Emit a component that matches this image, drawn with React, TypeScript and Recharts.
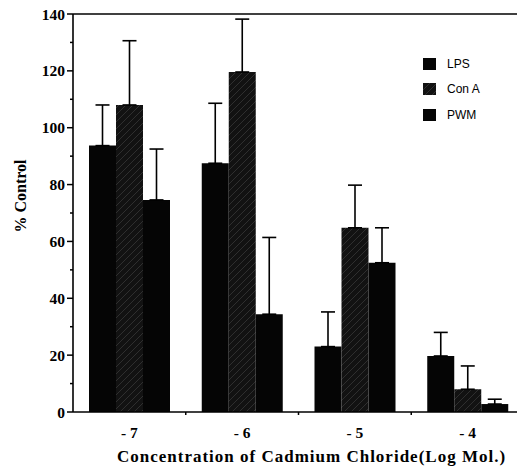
import React from 'react';
import { BarChart, Bar, XAxis, YAxis, ErrorBar, ReferenceLine, Label } from 'recharts';

const categories = ['-7', '-6', '-5', '-4'];
const tickLabels = ['- 7', '- 6', '- 5', '- 4'];
const lpsValues = [93.7, 87.5, 23.0, 19.7];
const lpsErrors = [14.3, 21.1, 12.2, 8.3];
const conAValues = [108.0, 119.6, 64.8, 8.0];
const conAErrors = [22.6, 18.6, 15.0, 8.2];
const pwmValues = [74.6, 34.4, 52.5, 2.8];
const pwmErrors = [17.9, 27.0, 12.3, 1.7];
const yTicks = [0, 10, 20, 30, 40, 50, 60, 70, 80, 90, 100, 110, 120, 130, 140];
const yLabelTicks = [0, 20, 40, 60, 80, 100, 120, 140];

const series = [
  { key: 'lps', name: 'LPS', fill: '#050505', errKey: 'lpsErr' },
  { key: 'conA', name: 'Con A', fill: 'url(#conAHatch)', errKey: 'conAErr' },
  { key: 'pwm', name: 'PWM', fill: '#050505', errKey: 'pwmErr' },
];

const data = categories.map((c, i) => ({
  cat: c,
  lps: lpsValues[i],
  lpsErr: [0, lpsErrors[i]],
  conA: conAValues[i],
  conAErr: [0, conAErrors[i]],
  pwm: pwmValues[i],
  pwmErr: [0, pwmErrors[i]],
}));

const SERIF = "'Liberation Serif', 'Times New Roman', serif";
const SANS = "'Liberation Sans', Arial, sans-serif";

const YTick = (props: any) => {
  const { x, y, payload } = props;
  const major = yLabelTicks.includes(payload.value);
  return (
    <g>
      <line x1={x - (major ? 6 : 3)} x2={x} y1={y} y2={y} stroke="#000" strokeWidth={1.5} />
      {major && (
        <text x={x - 8} y={y} textAnchor="end" dominantBaseline="central" fontFamily={SERIF} fontWeight="bold" fontSize={15.5} fill="#000">
          {payload.value}
        </text>
      )}
    </g>
  );
};

const XTick = (props: any) => {
  const { x, y, payload, index } = props;
  const half = (payload && payload.offset) || 56;
  return (
    <g>
      <line x1={x + half} x2={x + half} y1={y} y2={y + 3} stroke="#000" strokeWidth={1.5} />
      <text x={x} y={y + 26} textAnchor="middle" fontFamily={SERIF} fontWeight="bold" fontSize={15.5} fill="#000">
        {tickLabels[index] ?? payload.value}
      </text>
    </g>
  );
};

const XTitle = (props: any) => {
  const vb = props.viewBox || { x: 73, y: 412, width: 451, height: 55 };
  return (
    <text x={vb.x + vb.width / 2 + 13} y={vb.y + 50} textAnchor="middle" fontFamily={SERIF} fontWeight="bold" fontSize={17} letterSpacing={1} fill="#000">
      Concentration of Cadmium Chloride(Log Mol.)
    </text>
  );
};

const YTitle = (props: any) => {
  const vb = props.viewBox || { x: 0, y: 14, width: 73, height: 398 };
  const cx = vb.x + 20;
  const cy = vb.y + vb.height / 2 - 17;
  return (
    <text x={cx} y={cy} textAnchor="middle" dominantBaseline="central" transform={`rotate(-90, ${cx}, ${cy})`} fontFamily={SERIF} fontWeight="bold" fontSize={16} fill="#000">
      % Control
    </text>
  );
};

const HatchDefs = ({ id }: { id: string }) => (
  <defs>
    <pattern id={id} patternUnits="userSpaceOnUse" width="7" height="7">
      <rect width="7" height="7" fill="#121212" />
      <path d="M-1,1 L1,-1 M0,7 L7,0 M6,8 L8,6" stroke="#3c3c3c" strokeWidth="0.7" />
    </pattern>
  </defs>
);

export default function App() {
  return (
    <div style={{ position: 'absolute', left: 0, top: 0, width: 517, height: 467, overflow: 'hidden', background: '#fff' }}>
      <BarChart width={530} height={467} data={data} margin={{ top: 14, right: 6, bottom: 0, left: 0 }} barGap={0}>
        <HatchDefs id="conAHatch" />
        <XAxis dataKey="cat" height={55} stroke="#000" strokeWidth={1.6} tickLine={false} tickSize={0} tickMargin={0} tick={<XTick />} interval={0}>
          <Label content={<XTitle />} />
        </XAxis>
        <YAxis width={73} domain={[0, 140]} ticks={yTicks} interval={0} stroke="#000" strokeWidth={1.6} tickLine={false} tickSize={0} tickMargin={0} tick={<YTick />} allowDataOverflow>
          <Label content={<YTitle />} />
        </YAxis>
        <ReferenceLine y={140} stroke="#000" strokeWidth={1.5} />
        {series.map((s) => (
          <Bar key={s.key} dataKey={s.key} name={s.name} fill={s.fill} barSize={27} isAnimationActive={false}>
            <ErrorBar dataKey={s.errKey} direction="y" width={7} stroke="#000" strokeWidth={1.6} />
          </Bar>
        ))}
      </BarChart>
      <div style={{ position: 'absolute', left: 423, top: 51, fontFamily: SANS, fontSize: 12, color: '#000' }}>
        {series.map((s) => (
          <div key={s.key} style={{ display: 'flex', alignItems: 'center', height: 25.5 }}>
            <svg width={13} height={12} style={{ display: 'block' }}>
              <HatchDefs id={`legendHatch-${s.key}`} />
              <rect width={13} height={12} fill={s.key === 'conA' ? `url(#legendHatch-${s.key})` : s.fill} />
            </svg>
            <span style={{ marginLeft: 11 }}>{s.name}</span>
          </div>
        ))}
      </div>
    </div>
  );
}
